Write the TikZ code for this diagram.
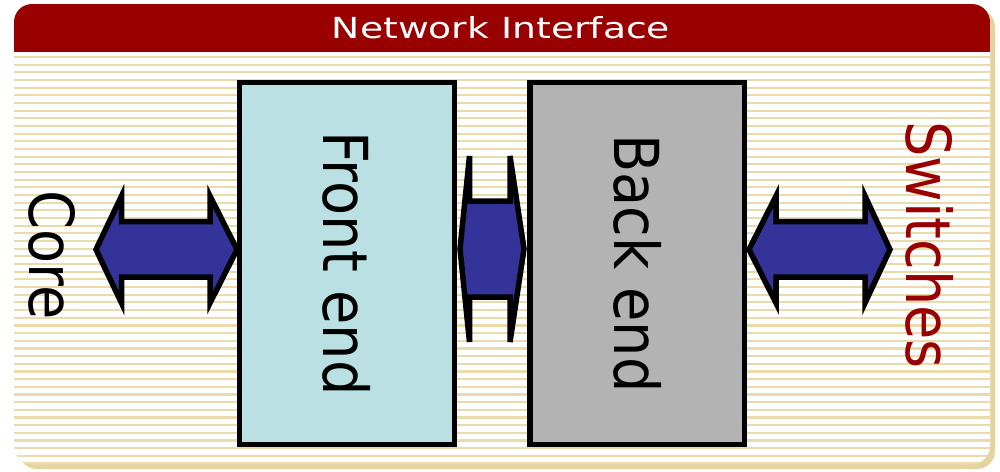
\documentclass[tikz,border=0pt]{standalone}
\usepackage{fontspec}
\newfontfamily\labelfont[FakeStretch=0.9]{DejaVu Sans}
\newfontfamily\titlefont[FakeStretch=1.3]{DejaVu Sans}
\definecolor{headred}{RGB}{153,0,0}
\definecolor{stripetan}{RGB}{235,218,170}
\definecolor{shadowtan}{RGB}{230,212,160}
\definecolor{frontfill}{RGB}{187,224,227}
\definecolor{backfill}{RGB}{179,179,179}
\definecolor{arrowblue}{RGB}{51,51,153}
\tikzset{
  stripe/.style={draw=stripetan, line width=2.3pt},
  blockbox/.style={draw=black, line width=5.5pt, rotate=-90, inner sep=0pt,
    font=\labelfont\fontsize{62}{62}\selectfont},
  bigarrow/.style={fill=arrowblue, draw=black, line width=5.5pt, line join=miter},
  sidelabel/.style={rotate=-90, inner sep=0pt, font=\labelfont\fontsize{62}{62}\selectfont},
}
\begin{document}
\begin{tikzpicture}[x=1pt,y=-1pt]
\useasboundingbox (0,0) rectangle (1000,471);

% drop shadow and panel
\fill[shadowtan, rounded corners=18pt] (19,9) rectangle (995,469);
\fill[white, rounded corners=18pt] (14,4) rectangle (990,464);
\begin{scope}
  \clip[rounded corners=18pt] (14,4) rectangle (990,464);
  \foreach \i in {0,...,53}
    \draw[stripe] (14,57+7.667*\i) -- (990,57+7.667*\i);
  \fill[headred] (14,4) rectangle (990,52);
\end{scope}
\node[text=white, font=\titlefont\fontsize{29}{29}\selectfont, inner sep=0pt] (title) at (501,28) {Network Interface};

% the two blocks
\node[blockbox, fill=frontfill, minimum width=362pt, minimum height=215pt] (front) at (347,263.5) {Front end};
\node[blockbox, fill=backfill, minimum width=362pt, minimum height=214.5pt] (back) at (637.25,263.5) {Back end};

% double arrows
\draw[bigarrow] (96,249.5) -- (121.5,196) -- (121.5,221.5) -- (210,221.5) -- (210,196) -- (237,249.5)
  -- (210,303) -- (210,277) -- (121.5,277) -- (121.5,303) -- cycle;
\draw[bigarrow, miter limit=3] (460,249) -- (469.5,156) -- (469.5,201) -- (510,201) -- (510,156) -- (524,249)
  -- (510,342) -- (510,297) -- (469.5,297) -- (469.5,342) -- cycle;
\draw[bigarrow] (749,249.5) -- (776,196) -- (776,221.5) -- (865,221.5) -- (865,196) -- (890,249.5)
  -- (865,303) -- (865,277) -- (776,277) -- (776,303) -- cycle;

% side labels
\node[sidelabel] (core) at (52,255) {Core};
\node[sidelabel, text=headred] (switches) at (930,245) {Switches};
\end{tikzpicture}
\end{document}
